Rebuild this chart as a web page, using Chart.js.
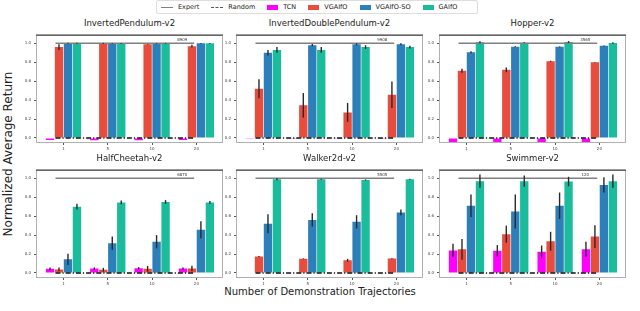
<!DOCTYPE html>
<html>
<head>
<meta charset="utf-8">
<script src="https://cdn.jsdelivr.net/npm/chart.js@4"></script>
<style>
  body { margin: 0; width: 640px; height: 311px; background: #fff; position: relative; overflow: hidden; font-family: "DejaVu Sans", sans-serif; }
  canvas { position: absolute; }
  .title { position: absolute; width: 187px; font-size: 8.5px; color: #222; text-align: center; line-height: 10px; }
  .legend { position: absolute; left: 156px; top: 0px; width: 322px; height: 14px; border: 1px solid #ddd; border-radius: 2px; box-sizing: border-box; display: flex; align-items: center; font-size: 6.5px; color: #222; padding-left: 4px; }
  .legend span.item { display: flex; align-items: center; margin-right: 12px; }
  .legend i { display: inline-block; margin-right: 5px; }
  .ylab { position: absolute; left: -92px; top: 147px; width: 200px; text-align: center; font-size: 12px; color: #222; transform: rotate(-90deg); }
  .xlab { position: absolute; left: 0; width: 640px; top: 286px; text-align: center; font-size: 10px; color: #222; }
</style>
</head>
<body>
<div class="legend" id="legend"></div>
<div class="ylab">Normalized Average Return</div>
<div class="xlab">Number of Demonstration Trajectories</div>

<script>
// x categories and series
const demoCounts = ["1", "5", "10", "20"];
const methods = ["TCN", "VGAIfO", "VGAIfO-SO", "GAIfO"];
const methodColors = ["#ff00ff", "#e74c3c", "#2c7fb8", "#1abc9c"];
const envNames = ["InvertedPendulum-v2", "InvertedDoublePendulum-v2", "Hopper-v2",
                  "HalfCheetah-v2", "Walker2d-v2", "Swimmer-v2"];
const expertScores = ["8909", "9908", "3565", "6870", "5505", "120"];
const yTicks = [0.0, 0.2, 0.4, 0.6, 0.8, 1.0];

// rows: TCN, VGAIfO, VGAIfO-SO, GAIfO ; columns: 1, 5, 10, 20 demos
const invPendulumMean = [[-0.02, -0.025, -0.025, -0.02], [0.96, 1.0, 0.99, 0.97], [1.0, 1.0, 1.0, 1.0], [1.0, 1.0, 1.0, 1.0]];
const invPendulumErr  = [[0, 0, 0, 0], [0.03, 0.005, 0.004, 0.015], [0.005, 0.004, 0.004, 0.004], [0.005, 0.004, 0.004, 0.004]];

const invDoubleMean = [[-0.004, -0.004, -0.004, -0.004], [0.52, 0.345, 0.27, 0.456], [0.90, 0.98, 0.99, 0.99], [0.93, 0.93, 0.96, 0.96]];
const invDoubleErr  = [[0, 0, 0, 0], [0.1, 0.13, 0.1, 0.14], [0.03, 0.012, 0.01, 0.01], [0.03, 0.03, 0.02, 0.015]];

const hopperMean = [[-0.045, -0.045, -0.045, -0.045], [0.71, 0.72, 0.81, 0.80], [0.905, 0.963, 0.963, 0.973], [1.01, 1.007, 1.013, 1.003]];
const hopperErr  = [[0, 0, 0, 0], [0.02, 0.025, 0.006, 0.003], [0.01, 0.006, 0.004, 0.004], [0.012, 0.005, 0.01, 0.008]];

const cheetahMean = [[0.044, 0.047, 0.05, 0.047], [0.037, 0.034, 0.044, 0.047], [0.144, 0.315, 0.33, 0.456], [0.70, 0.745, 0.75, 0.745]];
const cheetahErr  = [[0.015, 0.012, 0.012, 0.012], [0.02, 0.02, 0.03, 0.03], [0.06, 0.07, 0.07, 0.09], [0.03, 0.02, 0.02, 0.015]];

const walkerMean = [[0.0, 0.0, 0.0, 0.0], [0.175, 0.15, 0.134, 0.154], [0.52, 0.56, 0.54, 0.64], [0.99, 0.99, 0.983, 0.99]];
const walkerErr  = [[0, 0, 0, 0], [0.005, 0.004, 0.015, 0.004], [0.1, 0.07, 0.07, 0.03], [0.01, 0.006, 0.006, 0.004]];

const swimmerMean = [[0.238, 0.235, 0.225, 0.25], [0.25, 0.41, 0.335, 0.385], [0.71, 0.65, 0.71, 0.93], [0.97, 0.97, 0.966, 0.97]];
const swimmerErr  = [[0.07, 0.06, 0.065, 0.08], [0.11, 0.09, 0.1, 0.12], [0.12, 0.18, 0.14, 0.08], [0.07, 0.06, 0.05, 0.07]];

const envMeans = [invPendulumMean, invDoubleMean, hopperMean, cheetahMean, walkerMean, swimmerMean];
const envErrs = [invPendulumErr, invDoubleErr, hopperErr, cheetahErr, walkerErr, swimmerErr];

// expert / random reference lines
const expertLevel = 1.0;
const randomLevel = 0.0;
const refSpan = [-0.18, 2.95];
const expertLabelAt = 2.68;

// layout of the 2x3 grid
const colLefts = [36, 236, 439];
const rowTops = [29, 164];
const frameW = 187, frameH = 114, yAxisW = 22, xAxisH = 12;

// legend
const legend = document.getElementById("legend");
legend.innerHTML =
  '<span class="item"><i style="width:12px;border-top:1.5px solid #808080"></i>Expert</span>' +
  '<span class="item"><i style="width:12px;border-top:1.5px dashed #555"></i>Random</span>' +
  methods.map((m, k) => '<span class="item"><i style="width:11px;height:5px;background:' + methodColors[k] + '"></i>' + m + '</span>').join("");

const extrasPlugin = {
  id: "extras",
  afterDatasetsDraw(chart, args, opts) {
    const ctx = chart.ctx, x = chart.scales.x, y = chart.scales.y, a = chart.chartArea;
    ctx.save();
    // random line
    ctx.strokeStyle = "#111";
    ctx.lineWidth = 1.3;
    ctx.setLineDash([5, 2, 1.2, 2]);
    ctx.beginPath();
    ctx.moveTo(x.getPixelForValue(refSpan[0]), y.getPixelForValue(randomLevel));
    ctx.lineTo(x.getPixelForValue(refSpan[1]), y.getPixelForValue(randomLevel));
    ctx.stroke();
    ctx.setLineDash([]);
    // expert line
    ctx.strokeStyle = "#808080";
    ctx.lineWidth = 1.5;
    ctx.beginPath();
    ctx.moveTo(x.getPixelForValue(refSpan[0]), y.getPixelForValue(expertLevel));
    ctx.lineTo(x.getPixelForValue(refSpan[1]), y.getPixelForValue(expertLevel));
    ctx.stroke();
    ctx.fillStyle = "#333";
    ctx.font = "4px 'DejaVu Sans'";
    ctx.textAlign = "center";
    ctx.textBaseline = "bottom";
    ctx.fillText(opts.expert, x.getPixelForValue(expertLabelAt), y.getPixelForValue(expertLevel) - 1.5);
    // error bars
    ctx.strokeStyle = "#2a2a2a";
    ctx.lineWidth = 1.4;
    chart.data.datasets.forEach((ds, k) => {
      const meta = chart.getDatasetMeta(k);
      meta.data.forEach((bar, i) => {
        const e = ds.err[i];
        if (!e) return;
        const v = ds.data[i].y;
        ctx.beginPath();
        ctx.moveTo(bar.x, y.getPixelForValue(v - e));
        ctx.lineTo(bar.x, y.getPixelForValue(v + e));
        ctx.stroke();
      });
    });
    // frame
    ctx.strokeStyle = "#b0b0b0";
    ctx.lineWidth = 1;
    ctx.strokeRect(a.left + 0.5, a.top + 0.5, a.right - a.left - 1, a.bottom - a.top - 1);
    ctx.strokeStyle = "#666";
    ctx.lineWidth = 1.5;
    ctx.beginPath();
    ctx.moveTo(a.left, a.top + 0.75);
    ctx.lineTo(a.right, a.top + 0.75);
    ctx.stroke();
    ctx.restore();
  }
};

envNames.forEach((name, n) => {
  const left = colLefts[n % 3], top = rowTops[Math.floor(n / 3)];

  const title = document.createElement("div");
  title.className = "title";
  title.style.left = left + "px";
  title.style.top = (top - 11) + "px";
  title.textContent = name;
  document.body.appendChild(title);

  const canvas = document.createElement("canvas");
  canvas.width = frameW + yAxisW;
  canvas.height = frameH + xAxisH;
  canvas.style.left = (left - yAxisW) + "px";
  canvas.style.top = top + "px";
  document.body.appendChild(canvas);

  const mean = envMeans[n], err = envErrs[n];
  new Chart(canvas, {
    type: "bar",
    data: {
      datasets: methods.map((m, k) => ({
        label: m,
        data: mean[k].map((v, i) => ({ x: i, y: v })),
        err: err[k],
        backgroundColor: methodColors[k],
        borderWidth: 0,
      })),
    },
    options: {
      responsive: false,
      animation: false,
      layout: { padding: 0 },
      categoryPercentage: 0.81,
      barPercentage: 0.93,
      plugins: {
        legend: { display: false },
        tooltip: { enabled: false },
        extras: { expert: expertScores[n] },
      },
      scales: {
        x: {
          type: "linear",
          offset: false,
          min: -0.62,
          max: 3.6,
          afterBuildTicks: (s) => { s.ticks = demoCounts.map((_, i) => ({ value: i })); },
          afterFit: (s) => { s.height = xAxisH; },
          grid: { offset: false, drawOnChartArea: false, drawTicks: true, tickLength: 2, color: "#555" },
          border: { display: false },
          ticks: { callback: (v) => demoCounts[v], font: { size: 4, family: "DejaVu Sans" }, color: "#444", padding: 2, maxRotation: 0 },
        },
        y: {
          min: -0.053,
          max: 1.094,
          afterBuildTicks: (s) => { s.ticks = yTicks.map((v) => ({ value: v })); },
          afterFit: (s) => { s.width = yAxisW; },
          grid: { drawOnChartArea: false, drawTicks: true, tickLength: 2, color: "#555" },
          border: { display: false },
          ticks: { callback: (v) => v.toFixed(1), font: { size: 4, family: "DejaVu Sans" }, color: "#444", padding: 3 },
        },
      },
    },
    plugins: [extrasPlugin],
  });
});
</script>
</body>
</html>
